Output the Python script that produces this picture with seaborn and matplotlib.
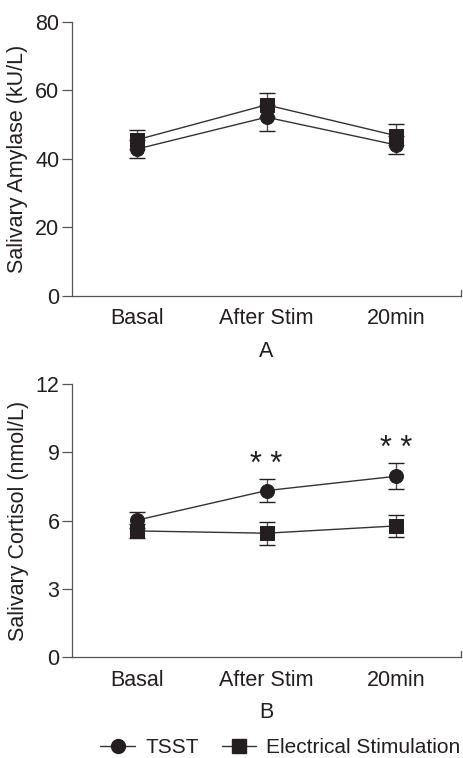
import matplotlib
matplotlib.use("Agg")
import matplotlib.pyplot as plt
import seaborn as sns
import pandas as pd

categories = ["Basal", "After Stim", "20min"]
groups = ["TSST", "Electrical Stimulation"]

amylase_tsst = [42.9, 52.2, 44.1]
amylase_tsst_err = [2.7, 4.0, 2.7]
amylase_es = [45.6, 55.8, 46.8]
amylase_es_err = [2.9, 3.4, 3.4]

cortisol_tsst = [6.02, 7.32, 7.95]
cortisol_tsst_err = [0.35, 0.52, 0.58]
cortisol_es = [5.55, 5.45, 5.77]
cortisol_es_err = [0.3, 0.5, 0.47]

amylase_ticks = [0, 20, 40, 60, 80]
cortisol_ticks = [0, 3, 6, 9, 12]

sns.set_theme(style="ticks")
plt.rcParams["font.family"] = ["Liberation Sans", "DejaVu Sans"]

INK = "#231f20"
GRAY = "#555555"
FS = 15.5

fig = plt.figure(figsize=(4.63, 7.58), dpi=100)
axA = fig.add_axes([0.1555, 0.6095, 0.8402, 0.3615])
axB = fig.add_axes([0.1555, 0.1328, 0.8402, 0.3606])


def draw(ax, tsst, tsst_err, es, es_err, ticks, ylabel, letter, errmode):
    df = pd.DataFrame({
        "time": categories * 2,
        "value": list(tsst) + list(es),
        "group": [groups[0]] * 3 + [groups[1]] * 3,
    })
    xs = list(range(len(categories)))
    if errmode == "split":
        ax.errorbar(xs, tsst, yerr=[tsst_err, [0] * 3], fmt="none", ecolor=GRAY,
                    elinewidth=1.0, capsize=5.5, capthick=1.0, zorder=1)
        ax.errorbar(xs, es, yerr=[[0] * 3, es_err], fmt="none", ecolor=GRAY,
                    elinewidth=1.0, capsize=5.5, capthick=1.0, zorder=1)
    else:
        ax.errorbar(xs, tsst, yerr=tsst_err, fmt="none", ecolor=GRAY,
                    elinewidth=1.0, capsize=5.5, capthick=1.0, zorder=1)
        ax.errorbar(xs, es, yerr=es_err, fmt="none", ecolor=GRAY,
                    elinewidth=1.0, capsize=5.5, capthick=1.0, zorder=1)
    sns.lineplot(data=df, x="time", y="value", hue="group", style="group",
                 markers={groups[0]: "o", groups[1]: "s"}, dashes=False,
                 palette={groups[0]: INK, groups[1]: INK}, markersize=10,
                 markeredgecolor=INK, linewidth=1.0, ax=ax, legend=False,
                 sort=False, zorder=3)
    for l in ax.get_lines():
        l.set_color("#333333")
        l.set_markerfacecolor(INK)
        l.set_markeredgecolor(INK)
    ax.set_xlim(-0.5, 2.5)
    ax.set_ylim(ticks[0], ticks[-1])
    ax.set_yticks(ticks)
    ax.set_xticks(xs)
    ax.set_xticklabels(categories)
    ax.tick_params(axis="x", length=0, pad=9, labelsize=FS, colors=INK)
    ax.tick_params(axis="y", length=7, width=0.9, pad=2, labelsize=FS,
                   colors=INK, color=GRAY)
    ax.set_xlabel(letter, fontsize=FS, color=INK, labelpad=8)
    ax.set_ylabel(ylabel, fontsize=FS, color=INK, labelpad=5)
    ax.spines["top"].set_visible(False)
    ax.spines["right"].set_bounds(ticks[0], ticks[0] + (ticks[-1] - ticks[0]) * 0.022)
    for s in ["left", "bottom", "right"]:
        ax.spines[s].set_color(GRAY)
        ax.spines[s].set_linewidth(0.9)


draw(axA, amylase_tsst, amylase_tsst_err, amylase_es, amylase_es_err,
     amylase_ticks, "Salivary Amylase (kU/L)", "A", "split")
draw(axB, cortisol_tsst, cortisol_tsst_err, cortisol_es, cortisol_es_err,
     cortisol_ticks, "Salivary Cortisol (nmol/L)", "B", "full")

for i in [1, 2]:
    y = cortisol_tsst[i] + cortisol_tsst_err[i] + 0.62
    axB.text(i, y, "* *", ha="center", va="center", fontsize=22, color=INK)

from matplotlib.lines import Line2D
handles = [
    Line2D([], [], color="#333333", lw=1.0, marker="o", markersize=10,
           markerfacecolor=INK, markeredgecolor=INK),
    Line2D([], [], color="#333333", lw=1.0, marker="s", markersize=10,
           markerfacecolor=INK, markeredgecolor=INK),
]
fig.legend(handles, groups, loc="center", bbox_to_anchor=(0.606, 0.014), ncol=2,
           frameon=False, fontsize=15, handlelength=1.65, handletextpad=0.5,
           columnspacing=1.1, labelcolor=INK, borderpad=0, borderaxespad=0)

fig.savefig("out.png", dpi=100)
